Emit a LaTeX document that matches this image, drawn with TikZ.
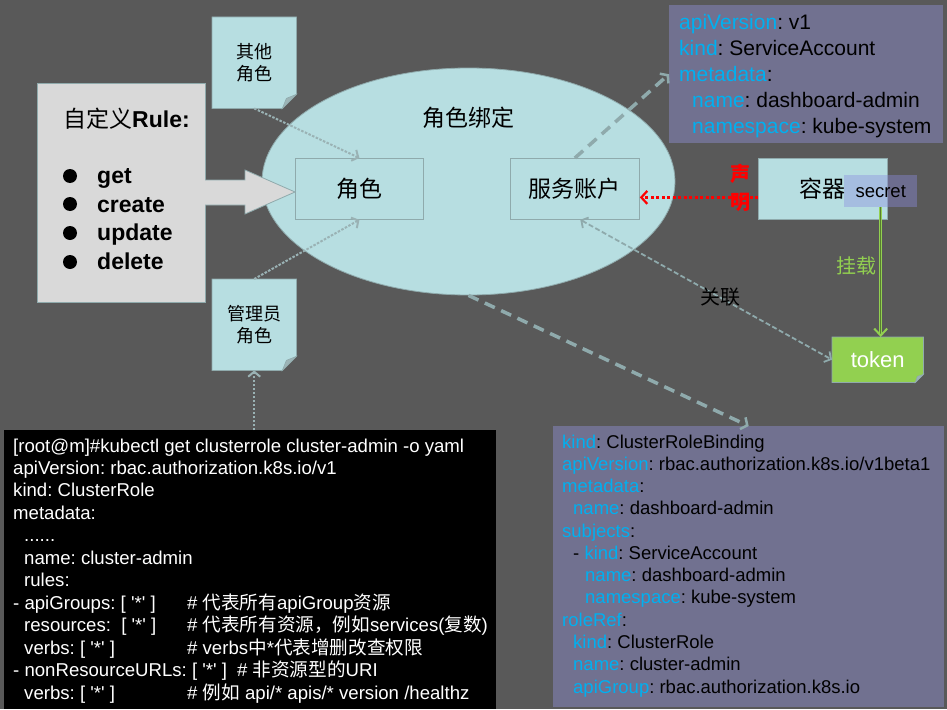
\documentclass[tikz,border=0pt]{standalone}
\usepackage{fontspec}
\setmainfont{Liberation Sans}
\newfontfamily\cjk{Noto Sans CJK SC}
\usetikzlibrary{arrows.meta,shapes.geometric}
\definecolor{bgc}{HTML}{595959}
\definecolor{tealc}{HTML}{B7DEE1}
\definecolor{bordc}{HTML}{8FAAAC}
\definecolor{greyc}{HTML}{D9D9D9}
\definecolor{purc}{HTML}{717190}
\definecolor{keyc}{HTML}{00B0F0}
\definecolor{greenc}{HTML}{92D050}
\definecolor{linec}{HTML}{8FAAAC}
\definecolor{foldc}{HTML}{9CB4B6}
\definecolor{secc}{HTML}{8C8CE0}
\pgfdeclarelayer{bg}
\pgfsetlayers{bg,main}
\newcommand{\kk}[1]{\textcolor{keyc}{#1}}
\newcommand{\zhs}[1]{{\cjk #1}}
\newcommand{\sq}{\textquotesingle}
\newcommand{\dogear}[4]{%
  \path[draw=bordc, fill=#3, line width=0.8pt] (#1.north west) -- (#1.north east) -- ([yshift=#2pt]#1.south east) -- ([xshift=-#2pt]#1.south east) -- (#1.south west) -- cycle;
  \path[draw=bordc, fill=foldc, line width=0.6pt] ([xshift=-#2pt]#1.south east) -- ([yshift=#2pt]#1.south east) -- ([xshift=-#4pt,yshift=#4pt]#1.south east) -- cycle;}
\frenchspacing
\begin{document}
\begin{tikzpicture}[x=1pt,y=-1pt,
  tealbox/.style={draw=bordc, fill=tealc, line width=0.8pt, inner sep=0pt, anchor=north west, font=\cjk\fontsize{23}{27}\selectfont},
  notenode/.style={inner sep=0pt, anchor=north west, align=center, font=\cjk\fontsize{18}{22}\selectfont},
  purbox/.style={fill=purc, inner sep=0pt, anchor=north west},
  codebox/.style={fill=black, inner sep=0pt, anchor=north west},
  codeline/.style={anchor=base west, inner sep=0pt, text=white, font=\fontsize{18.6}{20}\selectfont},
  yamlA/.style={anchor=base west, inner sep=0pt, text=black, font=\fontsize{21}{24}\selectfont},
  yamlB/.style={anchor=base west, inner sep=0pt, text=black, font=\fontsize{18.5}{20}\selectfont},
  ruleitem/.style={anchor=base west, inner sep=0pt, font=\bfseries\fontsize{23}{27}\selectfont},
  dotlink/.style={draw=linec!90!white, line width=2pt, dash pattern=on 2.5pt off 1.5pt, -{Straight Barb[length=5pt,width=12pt]}},
  dashlink/.style={draw=linec, line width=3.5pt, dash pattern=on 11pt off 7pt, -{Straight Barb[length=5pt,width=13pt,line width=2.5pt]}},
  assoclink/.style={draw=linec, line width=1.8pt, dash pattern=on 5pt off 2.5pt, {Straight Barb[length=5pt,width=12pt]}-{Straight Barb[length=5pt,width=12pt]}},
  redlink/.style={draw=red, line width=2.6pt, dash pattern=on 3pt off 2.5pt, -{Straight Barb[length=6pt,width=13pt,line width=2.2pt]}},
  greenlink/.style={draw=greenc, line width=1pt, double=greenc!60!black, double distance=1.2pt, -{Straight Barb[length=7pt,width=13pt,line width=2pt]}},
  lbl/.style={inner sep=0pt, font=\cjk\fontsize{20}{24}\selectfont}
]
\begin{pgfonlayer}{bg}
\fill[bgc] (0,0) rectangle (947,709);
\end{pgfonlayer}
\useasboundingbox (0,0) rectangle (947,709);

% ellipse (role binding)
\node[ellipse, draw=bordc, fill=tealc, line width=0.8pt, minimum width=413pt, minimum height=227pt, inner sep=0pt] (bind) at (468.5,181.5) {};
\node[inner sep=0pt, font=\cjk\fontsize{23}{27}\selectfont] (bindlbl) at (468,118) {角色绑定};

% rule box
\node[draw=bordc, fill=greyc, line width=0.8pt, inner sep=0pt, anchor=north west, minimum width=168pt, minimum height=219pt] (rule) at (37,83) {};
\node[anchor=base west, inner sep=0pt, font=\fontsize{23}{27}\selectfont] (ruletitle) at (63,127) {\zhs{自定义}\textbf{Rule:}};
\fill[black] (70,176) circle (7);
\fill[black] (70,204) circle (7);
\fill[black] (70,233) circle (7);
\fill[black] (70,262) circle (7);
\node[ruleitem] (rget) at (97,183) {get};
\node[ruleitem] (rcreate) at (97,212) {create};
\node[ruleitem] (rupdate) at (97,240) {update};
\node[ruleitem] (rdelete) at (97,269) {delete};

% boxes inside ellipse
\node[tealbox, minimum width=128pt, minimum height=61pt] (role) at (295,158) {角色};
\node[tealbox, minimum width=129pt, minimum height=61pt] (sasvc) at (510,158) {服务账户};

% block arrow rule -> role
\fill[greyc] (203,180) -- (245,180) -- (245,170) -- (295,192) -- (245,214) -- (245,205) -- (203,205) -- cycle;
\draw[bordc, line width=0.8pt] (205,180) -- (245,180) -- (245,170) -- (295,192) -- (245,214) -- (245,205) -- (205,205);

% notes
\node[notenode, minimum width=84pt, minimum height=91pt] (other) at (212,17) {其他\\角色};
\node[notenode, minimum width=84pt, minimum height=91pt] (admin) at (212,279) {管理员\\角色};
\node[inner sep=0pt, anchor=north west, minimum width=91pt, minimum height=45pt, text=white, font=\fontsize{22}{26}\selectfont] (token) at (832,337) {token};
\begin{pgfonlayer}{bg}
\dogear{other}{14}{tealc}{10}
\dogear{admin}{14}{tealc}{10}
\dogear{token}{8}{greenc}{6}
\end{pgfonlayer}

% container + secret
\node[tealbox, minimum width=129pt, minimum height=61pt] (cont) at (758,158) {容器};
\node[fill=secc, fill opacity=0.4, text opacity=1, inner sep=0pt, anchor=north west, minimum width=73pt, minimum height=32pt, font=\fontsize{18.5}{22}\selectfont] (secret) at (844,175) {secret};

% ServiceAccount yaml
\node[purbox, minimum width=274pt, minimum height=138pt] (sayaml) at (669,5) {};
\node[yamlA] (sa1) at (679,30) {\kk{apiVersion}: v1};
\node[yamlA] (sa2) at (679,55.8) {\kk{kind}: ServiceAccount};
\node[yamlA] (sa3) at (679,81.6) {\kk{metadata}:};
\node[yamlA] (sa4) at (692,107.4) {\kk{name}: dashboard-admin};
\node[yamlA] (sa5) at (692,133.2) {\kk{namespace}: kube-system};

% ClusterRoleBinding yaml
\node[purbox, minimum width=391pt, minimum height=281pt] (crb) at (553,426) {};
\node[yamlB] (crb1) at (562,448) {\kk{kind}: ClusterRoleBinding};
\node[yamlB] (crb2) at (562,470.3) {\kk{apiVersion}: rbac.authorization.k8s.io/v1beta1};
\node[yamlB] (crb3) at (562,492.5) {\kk{metadata}:};
\node[yamlB] (crb4) at (573,514.8) {\kk{name}: dashboard-admin};
\node[yamlB] (crb5) at (562,537.1) {\kk{subjects}:};
\node[yamlB] (crb6) at (573,559.4) {- \kk{kind}: ServiceAccount};
\node[yamlB] (crb7) at (585,581.6) {\kk{name}: dashboard-admin};
\node[yamlB] (crb8) at (585,603.9) {\kk{namespace}: kube-system};
\node[yamlB] (crb9) at (562,626.2) {\kk{roleRef}:};
\node[yamlB] (crb10) at (573,648.4) {\kk{kind}: ClusterRole};
\node[yamlB] (crb11) at (573,670.7) {\kk{name}: cluster-admin};
\node[yamlB] (crb12) at (573,693) {\kk{apiGroup}: rbac.authorization.k8s.io};

% ClusterRole code
\node[codebox, minimum width=492pt, minimum height=279pt] (code) at (4,430) {};
\node[codeline] (c1) at (13,452) {[root@m]\#kubectl get clusterrole cluster-admin -o yaml};
\node[codeline] (c2) at (13,474.5) {apiVersion: rbac.authorization.k8s.io/v1};
\node[codeline] (c3) at (13,496.9) {kind: ClusterRole};
\node[codeline] (c4) at (13,519.4) {metadata:};
\node[codeline] (c5) at (24,541.8) {......};
\node[codeline] (c6) at (24,564.3) {name: cluster-admin};
\node[codeline] (c7) at (24,586.7) {rules:};
\node[codeline] (c8) at (13,609.2) {\makebox[174pt][l]{- apiGroups: [ \sq*\sq{} ]}\# \zhs{代表所有}apiGroup\zhs{资源}};
\node[codeline] (c9) at (13,631.6) {\makebox[174pt][l]{\hspace*{11pt}resources: \ [ \sq*\sq{} ]}\# \zhs{代表所有资源，例如}services(\zhs{复数})};
\node[codeline] (c10) at (13,654.1) {\makebox[174pt][l]{\hspace*{11pt}verbs: [ \sq*\sq{} ]}\# verbs\zhs{中}*\zhs{代表增删改查权限}};
\node[codeline] (c11) at (13,676.5) {\makebox[224pt][l]{- nonResourceURLs: [ \sq*\sq{} ]}\# \zhs{非资源型的}URI};
\node[codeline] (c12) at (13,699) {\makebox[174pt][l]{\hspace*{11pt}verbs: [ \sq*\sq{} ]}\# \zhs{例如} api/* apis/* version /healthz};

% connectors
\draw[dotlink] (other.south) -- (role.north);
\draw[dotlink] (admin.north) -- (role.south);
\draw[dotlink] (admin.south |- code.north) -- (admin.south);
\draw[dashlink] (sasvc.north) -- (sayaml.west);
\draw[dashlink] (bind.south) -- (crb.north);
\draw[redlink] ([yshift=-8.5pt]cont.west) -- ([yshift=-8.5pt]sasvc.east);
\draw[greenlink] (secret.south) -- (secret.south |- token.north);
\draw[assoclink] (sasvc.-80) -- (token.west);

% labels
\node[lbl, text=red, align=center, font=\cjk\bfseries\fontsize{20}{28}\selectfont] (decl) at (740,188) {声\\明};
\node[lbl, text=greenc] (mount) at (856,266) {挂载};
\node[lbl, text=black] (assoc) at (720,297) {关联};
\end{tikzpicture}
\end{document}
